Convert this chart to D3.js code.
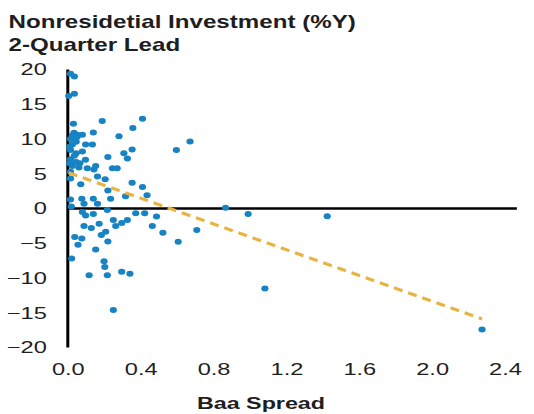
<!DOCTYPE html>
<html>
<head>
<meta charset="utf-8">
<script src="https://cdn.jsdelivr.net/npm/d3@7/dist/d3.min.js"></script>
<style>
  body { margin: 0; background: #fff; }
  svg text { font-family: "Liberation Sans", Arial, sans-serif; fill: #1e1e1e; }
</style>
</head>
<body>
<svg id="chart" width="534" height="414"></svg>
<script>
// Chart text
const titleLines = ["Nonresidetial Investment (%Y)", "2-Quarter Lead"];
const xAxisTitle = "Baa Spread";

// Axis ticks
const xTickValues = [0, 0.4, 0.8, 1.2, 1.6, 2.0, 2.4];
const yTickValues = [20, 15, 10, 5, 0, -5, -10, -15, -20];
const zeroLineEnd = 2.465;   // the horizontal zero line runs a little past the last tick

// Observations: Baa spread (x) against nonresidential investment growth, 2 quarters ahead (y)
const baaSpread = [
  0.015, 0.036, 0.005, 0.036, 0.031, 0.189, 0.41, 0.357, 0.140, 0.034,
  0.080, 0.052, 0.025, 0.281, 0.671, 0.596, 0.015, 0.025, 0.046, 0.098,
  0.135, 0.015, 0.046, 0.080, 0.353, 0.308, 0.327, 0.220, 0.015, 0.046,
  0.097, 0.025, 0.061, 0.107, 0.153, 0.143, 0.245, 0.271, 0.015, 0.163,
  0.205, 0.015, 0.071, 0.353, 0.41, 0.220, 0.317, 0.435, 0.077, 0.140,
  0.015, 0.235, 0.163, 0.019, 0.089, 0.080, 0.098, 0.140, 0.217, 0.373,
  0.422, 0.487, 0.250, 0.327, 0.296, 0.263, 0.089, 0.129, 0.172, 0.464,
  0.522, 0.708, 0.208, 0.184, 0.220, 0.606, 0.038, 0.077, 0.056, 0.153,
  0.021, 0.199, 0.203, 0.117, 0.217, 0.296, 0.341, 0.250, 0.866, 0.990,
  1.424, 1.082, 2.274, 0.010, 0.036, 0.066, 0.010, 0.051
];
const investmentGrowth = [
  19.4, 19.0, 16.2, 16.5, 12.2, 12.6, 12.9, 11.6, 10.95, 10.9,
  10.6, 10.6, 10.5, 10.4, 9.65, 8.4, 10.0, 9.2, 9.6, 9.2,
  9.2, 8.4, 7.95, 8.2, 8.5, 7.95, 7.2, 7.4, 7.1, 6.7,
  7.0, 6.1, 5.9, 5.8, 6.1, 5.6, 5.8, 5.8, 5.3, 4.6,
  4.2, 4.3, 3.5, 3.7, 3.1, 2.6, 1.75, 1.9, 1.4, 1.4,
  1.3, 1.4, 0.7, 0.3, 0.7, -0.5, -1.0, -0.8, -0.2, -0.7,
  -0.7, -1.15, -1.65, -1.65, -2.1, -2.5, -2.5, -2.8, -2.2, -2.5,
  -3.5, -3.1, -3.35, -3.8, -4.75, -4.8, -4.1, -4.3, -5.2, -5.9,
  -7.2, -7.6, -8.4, -9.6, -9.6, -9.1, -9.4, -14.6, 0.1, -0.8,
  -1.1, -11.5, -17.4, 8.9, 7.6, 6.5, 6.5, 10.3
];

// Linear trend line endpoints
const trendSpread = [0.005, 2.274];
const trendGrowth = [5.13, -15.9];

const colors = { dots: "#1783c3", trend: "#e7b441", axis: "#000" };

const svg = d3.select("#chart");

const x = d3.scaleLinear().domain([0, 2.4]).range([67.8, 505]);
const y = d3.scaleLinear().domain([-20, 20]).range([347.5, 69.5]);

// Stretch a text element horizontally (wide display lettering)
function widen(sel, factor) {
  sel.each(function () {
    const w = this.getComputedTextLength();
    d3.select(this).attr("textLength", w * factor).attr("lengthAdjust", "spacingAndGlyphs");
  });
}

// Title
const title = svg.append("g");
titleLines.forEach((t, i) => {
  title.append("text")
    .attr("x", 8.5)
    .attr("y", 28 + i * 22.5)
    .attr("font-size", 19)
    .attr("font-weight", "bold")
    .text(t);
});
widen(title.selectAll("text"), 1.27);

// Y axis labels (the spine is drawn below)
const yAxis = svg.append("g")
  .attr("transform", `translate(${x(0)},0)`)
  .call(d3.axisLeft(y).tickValues(yTickValues).tickSize(0).tickPadding(21).tickFormat(d3.format("d")));
yAxis.select(".domain").remove();
yAxis.selectAll("text").attr("font-size", 16.5).attr("fill", "#1e1e1e").attr("font-family", null);
widen(yAxis.selectAll("text"), 1.43);

// X axis labels along the bottom
const xAxis = svg.append("g")
  .attr("transform", `translate(0,${y(-20)})`)
  .call(d3.axisBottom(x).tickValues(xTickValues).tickSize(0).tickPadding(15.5).tickFormat(d3.format(".1f")));
xAxis.select(".domain").remove();
xAxis.selectAll("text").attr("font-size", 16.5).attr("fill", "#1e1e1e").attr("font-family", null);
widen(xAxis.selectAll("text"), 1.43);

// X axis title
const xt = svg.append("text")
  .attr("x", 261)
  .attr("y", 409)
  .attr("text-anchor", "middle")
  .attr("font-size", 17)
  .attr("font-weight", "bold")
  .text(xAxisTitle);
widen(xt, 1.37);

// Zero line and vertical spine
svg.append("line")
  .attr("x1", x(0)).attr("x2", x(zeroLineEnd))
  .attr("y1", y(0)).attr("y2", y(0))
  .attr("stroke", colors.axis).attr("stroke-width", 2.5);
svg.append("line")
  .attr("x1", x(0)).attr("x2", x(0))
  .attr("y1", y(20)).attr("y2", y(-20))
  .attr("stroke", colors.axis).attr("stroke-width", 3);

// Scatter points
const points = baaSpread.map((v, i) => ({ s: v, g: investmentGrowth[i] }));
svg.append("g").selectAll("ellipse")
  .data(points)
  .join("ellipse")
  .attr("cx", d => x(d.s))
  .attr("cy", d => y(d.g))
  .attr("rx", 3.6)
  .attr("ry", 3)
  .attr("fill", colors.dots);

// Trend line
const trend = trendSpread.map((v, i) => [v, trendGrowth[i]]);
svg.append("path")
  .datum(trend)
  .attr("d", d3.line().x(d => x(d[0])).y(d => y(d[1])))
  .attr("fill", "none")
  .attr("stroke", colors.trend)
  .attr("stroke-width", 3.2)
  .attr("stroke-dasharray", "9,6");
</script>
</body>
</html>
